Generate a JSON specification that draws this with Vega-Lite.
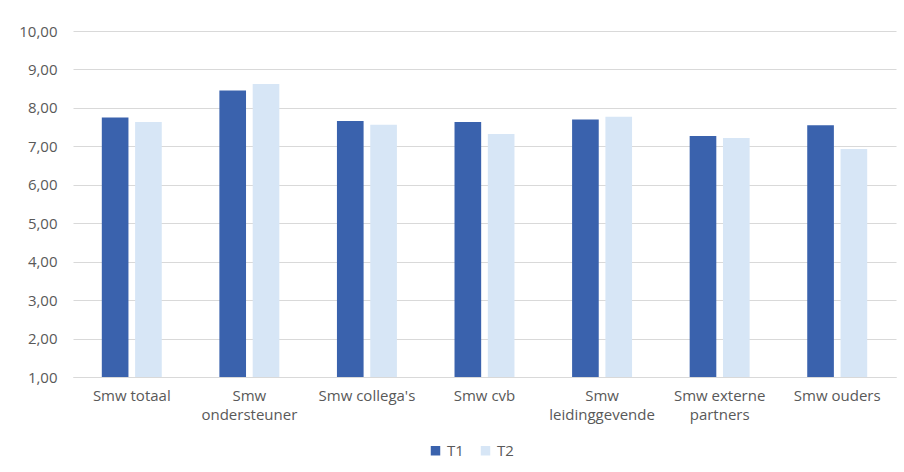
{
  "$schema": "https://vega.github.io/schema/vega-lite/v6.json",
  "autosize": "none",
  "width": 823,
  "height": 346,
  "padding": {"left": 73, "top": 31, "right": 8, "bottom": 95},
  "background": "#ffffff",
  "config": {
    "view": {"stroke": null},
    "font": "Open Sans",
    "axis": {"labelFont": "Open Sans", "labelColor": "#595959", "labelFontSize": 15}
  },
  "data": {
    "values": [
      {"cat": "Smw totaal", "tijd": "T1", "waarde": 7.75},
      {"cat": "Smw totaal", "tijd": "T2", "waarde": 7.63},
      {"cat": "Smw|ondersteuner", "tijd": "T1", "waarde": 8.45},
      {"cat": "Smw|ondersteuner", "tijd": "T2", "waarde": 8.62},
      {"cat": "Smw collega's", "tijd": "T1", "waarde": 7.66},
      {"cat": "Smw collega's", "tijd": "T2", "waarde": 7.56},
      {"cat": "Smw cvb", "tijd": "T1", "waarde": 7.63},
      {"cat": "Smw cvb", "tijd": "T2", "waarde": 7.32},
      {"cat": "Smw|leidinggevende", "tijd": "T1", "waarde": 7.70},
      {"cat": "Smw|leidinggevende", "tijd": "T2", "waarde": 7.77},
      {"cat": "Smw externe|partners", "tijd": "T1", "waarde": 7.27},
      {"cat": "Smw externe|partners", "tijd": "T2", "waarde": 7.22},
      {"cat": "Smw ouders", "tijd": "T1", "waarde": 7.55},
      {"cat": "Smw ouders", "tijd": "T2", "waarde": 6.93}
    ]
  },
  "mark": {"type": "bar"},
  "encoding": {
    "x": {
      "field": "cat",
      "type": "nominal",
      "sort": null,
      "scale": {"paddingInner": 0.49, "paddingOuter": 0.245},
      "axis": {
        "title": null,
        "labelAngle": 0,
        "labelExpr": "split(datum.label, '|')",
        "labelPadding": 11,
        "labelLineHeight": 19,
        "ticks": false,
        "domainColor": "#d9d9d9",
        "labelBaseline": "top"
      }
    },
    "xOffset": {"field": "tijd", "type": "nominal", "scale": {"paddingInner": 0.2}},
    "y": {
      "field": "waarde",
      "type": "quantitative",
      "scale": {"domain": [1, 10], "zero": false, "nice": false},
      "axis": {
        "title": null,
        "values": [1, 2, 3, 4, 5, 6, 7, 8, 9, 10],
        "labelExpr": "replace(format(datum.value, '.2f'), '.', ',')",
        "ticks": false,
        "domain": false,
        "gridColor": "#d9d9d9",
        "labelPadding": 16
      }
    },
    "y2": {"datum": 1},
    "color": {
      "field": "tijd",
      "type": "nominal",
      "scale": {"domain": ["T1", "T2"], "range": ["#3a62ad", "#d7e6f6"]},
      "legend": {
        "title": null,
        "orient": "none",
        "legendX": 355,
        "legendY": 412,
        "direction": "horizontal",
        "symbolType": "square",
        "symbolSize": 90,
        "labelFont": "Open Sans",
        "labelFontSize": 15,
        "labelColor": "#595959",
        "labelOffset": 4,
        "columnPadding": 14,
        "symbolStrokeWidth": 0
      }
    }
  }
}
